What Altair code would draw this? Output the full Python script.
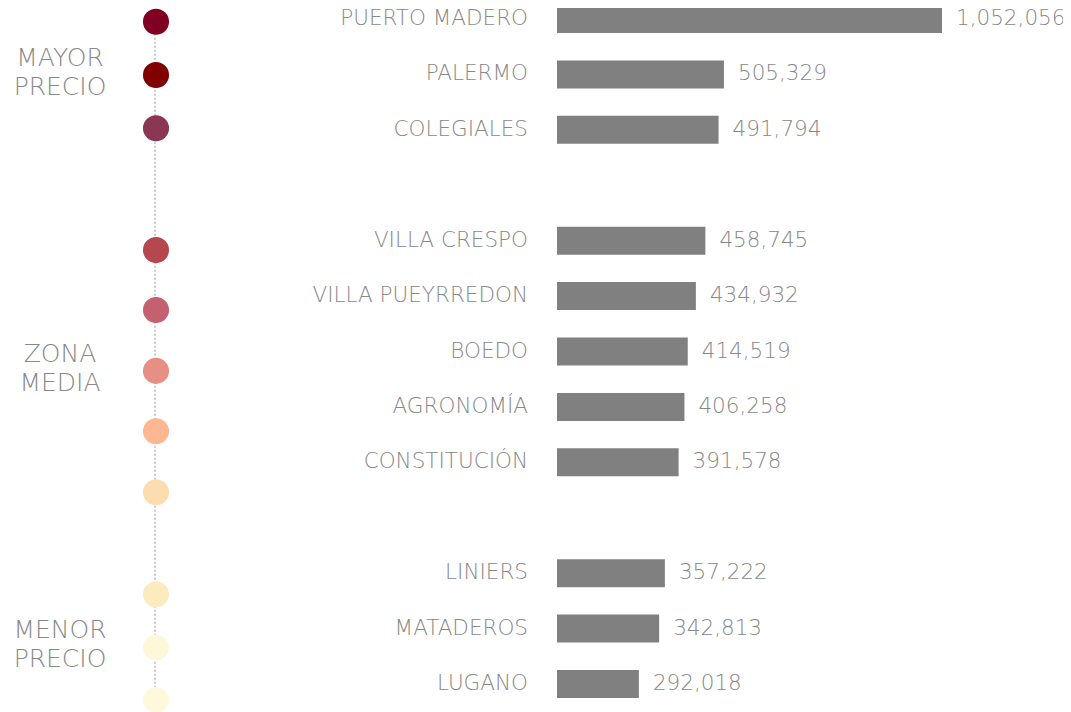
import altair as alt
import pandas as pd

barrios = ["PUERTO MADERO", "PALERMO", "COLEGIALES",
           "VILLA CRESPO", "VILLA PUEYRREDON", "BOEDO", "AGRONOMÍA", "CONSTITUCIÓN",
           "LINIERS", "MATADEROS", "LUGANO"]
precios = [1052056, 505329, 491794,
           458745, 434932, 414519, 406258, 391578,
           357222, 342813, 292018]
filas = [0, 1, 2, 4, 5, 6, 7, 8, 10, 11, 12]

dot_colors = ["#7f0020", "#800000", "#8b3753", "#b5474f", "#c56070", "#e88f85",
              "#fdb791", "#fdddb0", "#fdebc0", "#fff7da", "#fff8dc"]
dot_filas = [0.05, 1.01, 1.97, 4.17, 5.25, 6.35, 7.44, 8.54, 10.38, 11.34, 12.29]

grupos = [["MAYOR", "PRECIO"], ["ZONA", "MEDIA"], ["MENOR", "PRECIO"]]
grupo_filas = [0.97, 6.3, 11.28]

X_MIN = 86700
FONT = "DejaVu Sans"
GREY = "#888888"

bars = pd.DataFrame({"barrio": barrios, "precio": precios, "fila": filas})
bars["etiqueta"] = bars["precio"].map(lambda v: f"{v:,}")
dots = pd.DataFrame({"fila": dot_filas, "orden": list(range(len(dot_colors)))})
grp = pd.DataFrame({"texto": grupos, "fila": grupo_filas})

yscale = alt.Scale(domain=[0, 12], range=[11, 676])
xscale = alt.Scale(domain=[X_MIN, 1052056], range=[549, 934], zero=False)

base = alt.Chart(bars)

bar_layer = base.mark_rule(strokeWidth=28, strokeCap="butt", color="#808080").encode(
    x=alt.X("precio:Q", scale=xscale, axis=None),
    x2=alt.datum(X_MIN),
    y=alt.Y("fila:Q", scale=yscale, axis=None),
)

cat_labels = base.mark_text(align="right", baseline="middle", font=FONT, fontWeight=200,
                            fontSize=21.5, color=GREY).encode(
    x=alt.value(520),
    y=alt.Y("fila:Q", scale=yscale, axis=None),
    text="barrio:N",
)

val_labels = base.mark_text(align="left", baseline="middle", dx=14, font=FONT, fontWeight=200,
                            fontSize=21.5, color=GREY).encode(
    x=alt.X("precio:Q", scale=xscale, axis=None),
    y=alt.Y("fila:Q", scale=yscale, axis=None),
    text="etiqueta:N",
)

line = alt.Chart(pd.DataFrame({"a": [dot_filas[0]], "b": [dot_filas[-1]]})).mark_rule(
    color="#cccccc", strokeWidth=2, strokeDash=[2, 2]).encode(
    x=alt.value(147),
    y=alt.Y("a:Q", scale=yscale, axis=None),
    y2="b:Q",
)

dot_layer = alt.Chart(dots).mark_circle(size=680, opacity=1).encode(
    x=alt.value(148),
    y=alt.Y("fila:Q", scale=yscale, axis=None),
    color=alt.Color("orden:O", scale=alt.Scale(domain=list(range(len(dot_colors))), range=dot_colors),
                    legend=None),
)

grp_labels = alt.Chart(grp).mark_text(align="center", baseline="middle", dy=-14.5, font=FONT,
                                      fontWeight=200, fontSize=25, lineHeight=29, color=GREY).encode(
    x=alt.value(52),
    y=alt.Y("fila:Q", scale=yscale, axis=None),
    text="texto",
)

chart = alt.layer(line, dot_layer, bar_layer, cat_labels, val_labels, grp_labels).properties(
    width=1055, height=704, autosize=alt.AutoSizeParams(type="none"), padding=0
).configure_view(stroke=None)

chart.save("out.html", embed_options={"renderer": "svg", "actions": False})
